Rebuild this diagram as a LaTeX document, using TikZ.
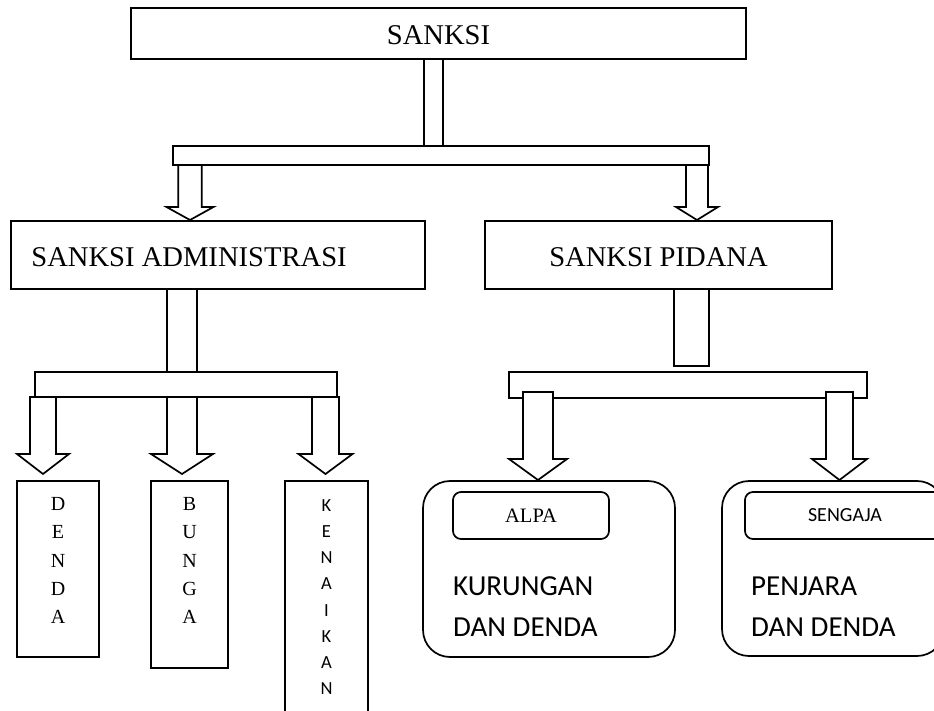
\documentclass[tikz,border=0pt]{standalone}
\usepackage{fontspec}
\setmainfont{Liberation Serif}
\newfontfamily\calibri{Carlito}
\usetikzlibrary{positioning}
\tikzset{
  box/.style={draw,line width=1.7pt,inner sep=0pt},
  headbox/.style={box,minimum height=68pt,text height=23.5pt,text depth=0pt,
    font=\fontsize{28.6}{34}\selectfont},
  headtext/.style={inner sep=0pt,text height=23.5pt,text depth=0pt,
    font=\fontsize{28.6}{34}\selectfont},
  roundbox/.style={box,rounded corners=27pt},
  tagbox/.style={box,rounded corners=8pt,minimum height=47pt},
  blockline/.style={draw,fill=white,line width=1.7pt},
  letters/.style={align=center,inner sep=0pt},
  bigsans/.style={anchor=base west,inner sep=0pt,font=\calibri\fontsize{29}{35}\selectfont}
}
% x, top, tip, shaft half width, head half width, head length
\newcommand\blockdown[6]{%
  \draw[blockline] ({#1-#4},#2) -- ({#1-#4},{#3-#6}) -- ({#1-#5},{#3-#6})
    -- (#1,#3) -- ({#1+#5},{#3-#6}) -- ({#1+#4},{#3-#6}) -- ({#1+#4},#2) -- cycle;}

\begin{document}
\begin{tikzpicture}[x=1pt,y=-1pt]
  \useasboundingbox (0,0) rectangle (934,711);
  \clip (0,0) rectangle (934,711);

  % top
  \node[headbox,minimum width=615pt,minimum height=51pt,text height=23pt] (sanksi) at (438.5,33.5) {SANKSI};
  \draw[blockline] (424,59) rectangle (443,146);
  \draw[blockline] (173,146) rectangle (709,165);
  \blockdown{190}{165}{220}{11.75}{23.5}{13}
  \blockdown{697}{165}{220}{11}{21}{13}

  % second level
  \node[box,minimum width=414pt,minimum height=68pt] (admin) at (218,255) {};
  \node[headtext,right=21pt of admin.west] (admintxt) {SANKSI ADMINISTRASI};
  \node[headbox,minimum width=347pt] (pidana) at (658.5,255) {SANKSI PIDANA};

  % administrasi branch
  \draw[blockline] (167,289) rectangle (197,372);
  \draw[blockline] (35,372) rectangle (337,397);
  \blockdown{43}{397}{474}{13}{26}{20}
  \blockdown{182}{397}{474}{15}{31}{20}
  \blockdown{325.5}{397}{474}{13.5}{27}{20}

  \node[box,minimum width=82pt,minimum height=176pt] (denda) at (58,569) {};
  \node[letters,font=\fontsize{20}{28.3}\selectfont,below=17pt of denda.north] (dendatxt) {D\\E\\N\\D\\A};
  \node[box,minimum width=77pt,minimum height=187pt] (bunga) at (189.5,574.5) {};
  \node[letters,font=\fontsize{20}{28.3}\selectfont,below=17pt of bunga.north] (bungatxt) {B\\U\\N\\G\\A};
  \node[box,minimum width=83pt,minimum height=259pt] (kenaikan) at (326.5,610.5) {};
  \node[letters,font=\calibri\fontsize{18.5}{26.2}\selectfont,below=19pt of kenaikan.north] (kenaikantxt) {K\\E\\N\\A\\I\\K\\A\\N};

  % pidana branch
  \draw[blockline] (674,289) rectangle (709,366);
  \draw[blockline] (509,372) rectangle (867,398);
  \blockdown{538}{392}{480}{15}{29}{21}
  \blockdown{839.5}{392}{480}{13.5}{27.5}{21}

  \node[roundbox,minimum width=252pt,minimum height=176pt] (kurungan) at (549,569) {};
  \node[tagbox,minimum width=156pt,font=\fontsize{20.5}{24}\selectfont] (alpa) at (531,515.5) {ALPA};
  \node[bigsans] (kurungan1) at (453,595) {KURUNGAN};
  \node[bigsans] (kurungan2) at (453,636) {DAN DENDA};

  \node[roundbox,minimum width=222pt,minimum height=175pt] (penjara) at (833,568.5) {};
  \node[tagbox,minimum width=200pt,font=\calibri\fontsize{20}{24}\selectfont] (sengaja) at (845,515.5) {SENGAJA};
  \node[bigsans] (penjara1) at (751,595) {PENJARA};
  \node[bigsans] (penjara2) at (751,636) {DAN DENDA};
\end{tikzpicture}
\end{document}
